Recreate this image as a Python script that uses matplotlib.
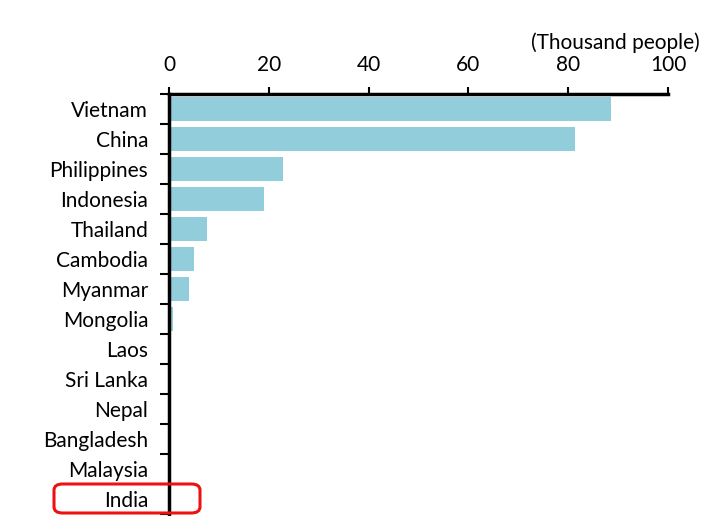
import numpy as np
import matplotlib
matplotlib.use("Agg")
from matplotlib import pyplot as plt
from matplotlib.patches import FancyBboxPatch

countries = ["Vietnam", "China", "Philippines", "Indonesia", "Thailand", "Cambodia",
             "Myanmar", "Mongolia", "Laos", "Sri Lanka", "Nepal", "Bangladesh",
             "Malaysia", "India"]
values = [88.6, 81.4, 22.8, 19.0, 7.6, 5.0, 4.0, 0.8, 0.3, 0.05, 0.05, 0.05, 0.05, 0.05]
xticks = [0, 20, 40, 60, 80, 100]

plt.rcParams['font.family'] = ['Lato', 'DejaVu Sans']
fs = 15

fig = plt.figure(figsize=(7.25, 5.16), dpi=100)
ax = fig.add_axes([169/725, 1 - 514/516, (668 - 169)/725, (514 - 94)/516])

y = np.arange(len(countries))
ax.barh(y, values, height=0.77, color="#92cddc", edgecolor="none")

ax.set_xlim(0, 100)
ax.set_ylim(len(countries) - 0.5, -0.5)

ax.xaxis.tick_top()
ax.set_xticks(xticks)
ax.set_xticklabels([str(v) for v in xticks], fontsize=fs)
ax.tick_params(axis="x", direction="out", length=5, width=1.5, pad=9)

ax.set_yticks(y)
ax.set_yticklabels(countries, fontsize=fs)
ax.set_yticks(np.arange(len(countries) + 1) - 0.5, minor=True)
ax.tick_params(axis="y", which="major", length=0, pad=15)
ax.tick_params(axis="y", which="minor", direction="out", length=6.5, width=1.5)

for s in ["right", "bottom"]:
    ax.spines[s].set_visible(False)
for s in ["top", "left"]:
    ax.spines[s].set_linewidth(2.5)

fig.text(700/725, 1 - 43/516, "(Thousand people)", fontsize=fs, ha="right", va="center")

box = FancyBboxPatch((54/725, 1 - 513/516), (200 - 54)/725, (513 - 484)/516,
                     boxstyle="round,pad=0,rounding_size=0.012",
                     transform=fig.transFigure, fill=False, edgecolor="#ee1111",
                     linewidth=2.2, clip_on=False)
fig.add_artist(box)

fig.savefig("out.png", dpi=100)
